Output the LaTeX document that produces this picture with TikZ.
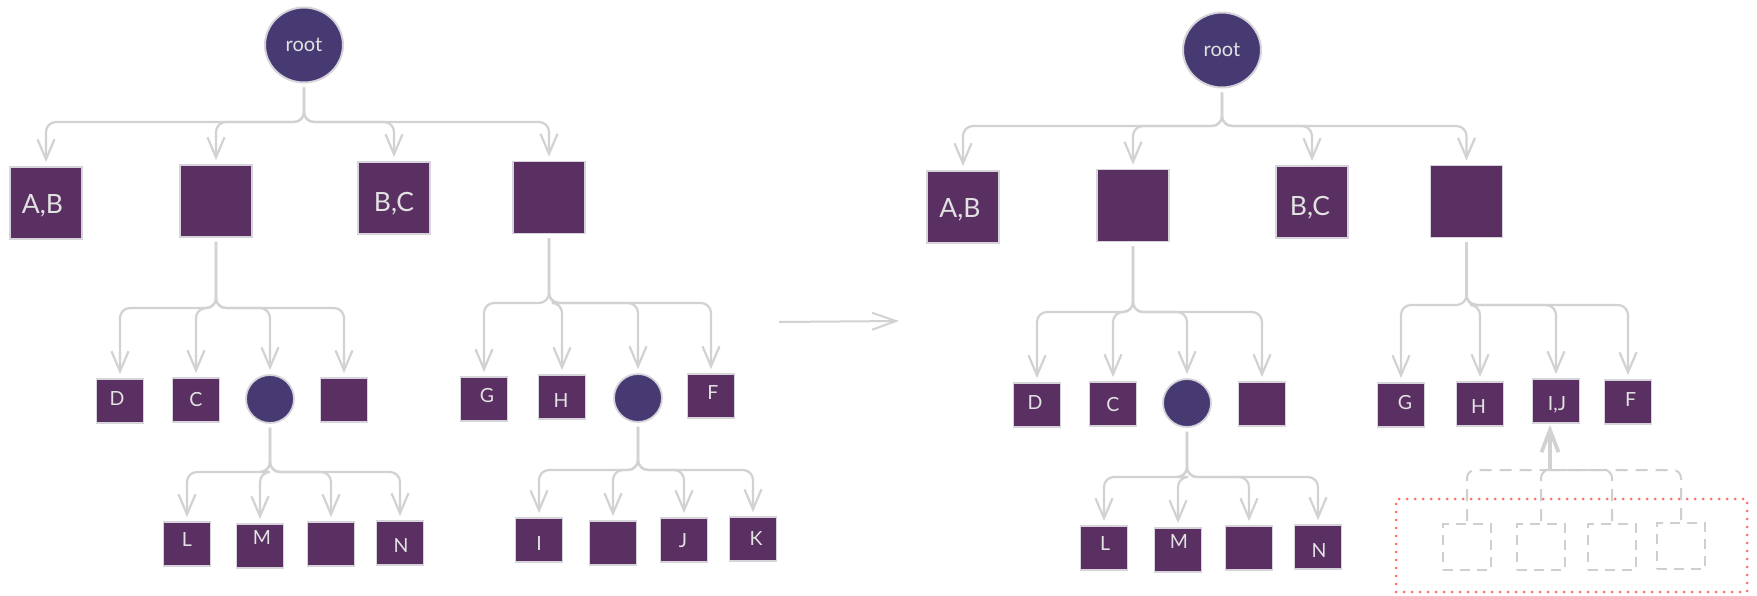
\documentclass[tikz,border=0pt]{standalone}
\usepackage{fontspec}
\setmainfont{Lato}
\usetikzlibrary{arrows.meta,shapes.geometric,calc}
\definecolor{boxfill}{HTML}{5A3062}
\definecolor{circfill}{HTML}{473A72}
\definecolor{bordergray}{HTML}{D6D4DA}
\definecolor{linegray}{HTML}{D2D2D2}
\definecolor{txtgray}{HTML}{E2E2E2}
\definecolor{dotred}{HTML}{FF6E6E}
\definecolor{dashgray}{HTML}{CFCFCF}
\newcommand\treeedge[3]{\draw[edge] let \p1=(#1.south), \p2=(#2.north), \p3=(0,#3) in (\p1) -- (\x1,\y3) -| (\p2);}
\begin{document}
\begin{tikzpicture}[x=1pt,y=-1pt,
  sq/.style={rectangle, fill=boxfill, draw=bordergray, line width=1.8pt, minimum width=47pt, minimum height=44pt, inner sep=0pt},
  bigsq/.style={sq, minimum width=72pt, minimum height=72pt},
  circ/.style={circle, fill=circfill, draw=bordergray, line width=1.8pt, minimum size=48pt, inner sep=0pt},
  rootc/.style={ellipse, fill=circfill, draw=bordergray, line width=2pt, minimum width=78pt, minimum height=75pt, inner sep=0pt, text=txtgray, font=\fontsize{20}{24}\selectfont},
  lbl/.style={text=txtgray, font=\fontsize{19.5}{22}\selectfont, inner sep=0pt},
  biglbl/.style={text=txtgray, font=\fontsize{26.5}{30}\selectfont, inner sep=0pt},
  ghost/.style={rectangle, draw=dashgray, line width=2pt, dash pattern=on 10pt off 7pt, minimum width=48pt, minimum height=46pt, inner sep=0pt},
  framebox/.style={rectangle, draw=dotred, line width=3pt, dash pattern=on 0pt off 8pt, line cap=round, minimum width=351pt, minimum height=93pt, inner sep=0pt},
  edge/.style={draw=linegray, line width=2.2pt, rounded corners=10pt, shorten <=4pt, shorten >=4pt, -{Straight Barb[length=20pt,width=17pt]}},
  dedge/.style={draw=dashgray, line width=2pt, rounded corners=8pt, dash pattern=on 12pt off 8pt, shorten <=2pt},
  uparrow/.style={draw=linegray, line width=3.8pt, shorten >=1pt, -{Straight Barb[length=22pt,width=17pt]}},
  midarrow/.style={draw=linegray, line width=2pt, -{Straight Barb[length=24pt,width=17pt]}}
]
\fill[white] (0,0) rectangle (1757,595);
\useasboundingbox (0,0) rectangle (1757,595);

% ---------------- left tree ----------------
\node[rootc] (r1) at (304,45) {root};
\node[bigsq, label={[biglbl,xshift=-3.5pt,yshift=-3pt]center:A,B}] (ab1) at (46,203) {};
\node[bigsq] (x1) at (216,201) {};
\node[bigsq, label={[biglbl,yshift=-6pt]center:B,C}] (bc1) at (394,198) {};
\node[bigsq] (y1) at (549,197.5) {};

\node[sq, label={[lbl,xshift=-3pt,yshift=2pt]center:D}] (d1) at (120,401) {};
\node[sq, label={[lbl]center:C}] (c1) at (196,400) {};
\node[circ] (p1) at (270,399) {};
\node[sq] (e1) at (344,400) {};

\node[sq, label={[lbl,yshift=4pt]center:L}] (l1) at (187,544) {};
\node[sq, label={[lbl,xshift=2pt,yshift=8pt]center:M}] (mm1) at (260,546) {};
\node[sq] (o1) at (331,544) {};
\node[sq, label={[lbl,xshift=1pt,yshift=-3pt]center:N}] (n1) at (400,543) {};

\node[sq, label={[lbl,xshift=3pt,yshift=3pt]center:G}] (g1) at (484,399) {};
\node[sq, label={[lbl,xshift=-1pt,yshift=-3.5pt]center:H}] (h1) at (562,397) {};
\node[circ] (q1) at (638,398) {};
\node[sq, label={[lbl,xshift=2pt,yshift=3pt]center:F}] (f1) at (711,396) {};

\node[sq, label={[lbl,yshift=-4pt]center:I}] (i1) at (539,540) {};
\node[sq] (z1) at (613,543) {};
\node[sq, label={[lbl,xshift=-1pt,yshift=-1pt]center:J}] (j1) at (684,540) {};
\node[sq, label={[lbl,xshift=3pt]center:K}] (k1) at (753,539) {};

\treeedge{r1}{ab1}{122}
\treeedge{r1}{x1}{122}
\treeedge{r1}{bc1}{122}
\treeedge{r1}{y1}{122}
\treeedge{x1}{d1}{308}
\treeedge{x1}{c1}{308}
\treeedge{x1}{p1}{308}
\treeedge{x1}{e1}{308}
\treeedge{p1}{l1}{472}
\treeedge{p1}{mm1}{472}
\treeedge{p1}{o1}{472}
\treeedge{p1}{n1}{472}
\treeedge{y1}{g1}{303}
\treeedge{y1}{h1}{303}
\treeedge{y1}{q1}{303}
\treeedge{y1}{f1}{303}
\treeedge{q1}{i1}{470}
\treeedge{q1}{z1}{470}
\treeedge{q1}{j1}{470}
\treeedge{q1}{k1}{470}

% ---------------- middle arrow ----------------
\coordinate (ma) at (779,322);
\coordinate (mb) at (899,321);
\draw[midarrow] (ma) -- (mb);

% ---------------- right tree ----------------
\node[rootc] (r2) at (1222,50) {root};
\node[bigsq, label={[biglbl,xshift=-3pt,yshift=-3pt]center:A,B}] (ab2) at (963,207) {};
\node[bigsq] (x2) at (1133,205.5) {};
\node[bigsq, label={[biglbl,xshift=-2pt,yshift=-6pt]center:B,C}] (bc2) at (1312,202) {};
\node[bigsq] (y2) at (1466.5,201.5) {};

\node[sq, label={[lbl,xshift=-2pt,yshift=2pt]center:D}] (d2) at (1037,405) {};
\node[sq, label={[lbl,yshift=-1pt]center:C}] (c2) at (1113,404) {};
\node[circ] (p2) at (1187,403) {};
\node[sq] (e2) at (1262,404) {};

\node[sq, label={[lbl,xshift=1pt,yshift=4pt]center:L}] (l2) at (1104,548) {};
\node[sq, label={[lbl,xshift=1pt,yshift=8pt]center:M}] (mm2) at (1178,550) {};
\node[sq] (o2) at (1249,548) {};
\node[sq, label={[lbl,xshift=1pt,yshift=-4pt]center:N}] (n2) at (1318,547) {};

\node[sq, label={[lbl,xshift=4pt,yshift=2.5pt]center:G}] (g2) at (1401,405) {};
\node[sq, label={[lbl,xshift=-1.5pt,yshift=-2.5pt]center:H}] (h2) at (1480,404) {};
\node[sq, label={[lbl,xshift=1pt,yshift=-4pt]center:I,J}] (ij2) at (1556,401) {};
\node[sq, label={[lbl,xshift=2.5pt,yshift=2pt]center:F}] (f2) at (1628,402) {};

\treeedge{r2}{ab2}{126}
\treeedge{r2}{x2}{126}
\treeedge{r2}{bc2}{126}
\treeedge{r2}{y2}{126}
\treeedge{x2}{d2}{312}
\treeedge{x2}{c2}{312}
\treeedge{x2}{p2}{312}
\treeedge{x2}{e2}{312}
\treeedge{p2}{l2}{477}
\treeedge{p2}{mm2}{477}
\treeedge{p2}{o2}{477}
\treeedge{p2}{n2}{477}
\treeedge{y2}{g2}{305}
\treeedge{y2}{h2}{305}
\treeedge{y2}{ij2}{305}
\treeedge{y2}{f2}{305}

% ---------------- dashed group ----------------
\node[framebox] (grp) at (1571.5,545.5) {};
\node[ghost] (w1) at (1467,547) {};
\node[ghost] (w2) at (1541,547) {};
\node[ghost] (w3) at (1612,547) {};
\node[ghost] (w4) at (1681,546) {};
\coordinate (jn) at (1550,470);
\draw[dedge] (w1.north) |- (jn);
\draw[dedge] (w2.north) |- (jn);
\draw[dedge] (w3.north) |- (jn);
\draw[dedge] (w4.north) |- (jn);
\draw[uparrow] (jn) -- (jn |- ij2.south);
\end{tikzpicture}
\end{document}
